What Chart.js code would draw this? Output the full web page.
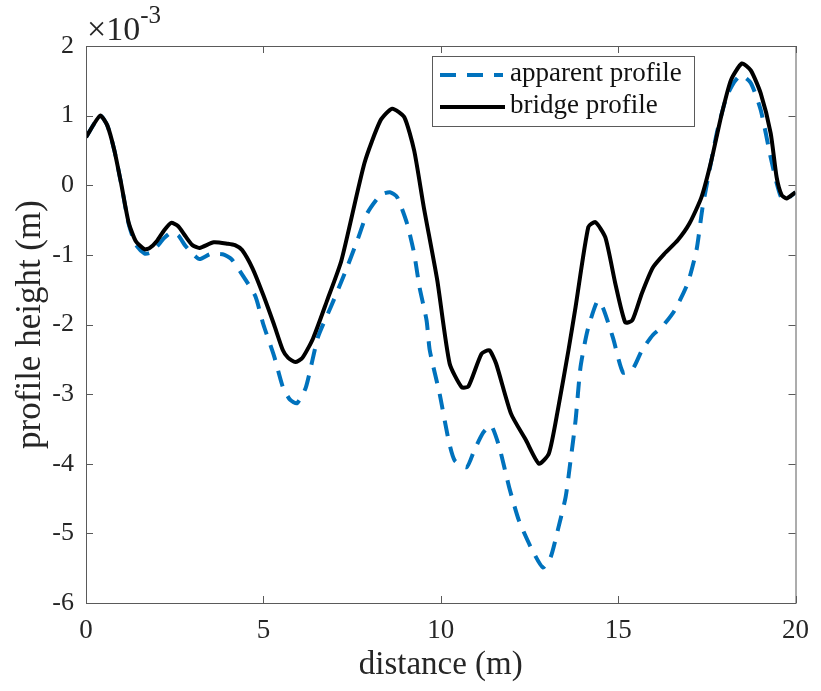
<!DOCTYPE html>
<html>
<head>
<meta charset="utf-8">
<script src="https://cdn.jsdelivr.net/npm/chart.js@4.4.1/dist/chart.umd.min.js"></script>
<style>
  html, body { margin: 0; padding: 0; background: #fff; }
  #wrap { width: 821px; height: 691px; }
</style>
</head>
<body>
<div id="wrap"><canvas id="profileChart" width="821" height="691"></canvas></div>
<script>
// 讀圖估計的數值 (高度單位: 1e-3 m)
const bridgeDistance = [0, 0.4, 0.6, 0.8, 1.0, 1.2, 1.4, 1.65, 1.8, 2.0, 2.2, 2.4, 2.6, 2.8, 3.0, 3.2, 3.6, 4.0, 4.2, 4.4,
  4.7, 5.0, 5.3, 5.55, 5.7, 5.9, 6.1, 6.4, 6.8, 7.2, 7.85, 8.3, 8.63, 8.97, 9.25, 9.52, 9.9, 10.25, 10.59, 10.78,
  11.15, 11.37, 11.56, 11.98, 12.4, 12.77, 13.05, 13.3, 13.6, 13.8, 14.16, 14.36, 14.64, 14.92, 15.2, 15.4, 15.67,
  15.98, 16.31, 16.68, 17.01, 17.35, 17.63, 17.9, 18.18, 18.49, 18.74, 19.02, 19.3, 19.47, 19.61, 19.75, 20];
const bridgeHeight = [0.69, 1.0, 0.86, 0.5, 0, -0.53, -0.8, -0.92, -0.9, -0.8, -0.65, -0.54, -0.59, -0.73, -0.86, -0.9, -0.82, -0.84, -0.86, -0.93,
  -1.2, -1.58, -2.0, -2.37, -2.48, -2.54, -2.48, -2.2, -1.65, -1.08, 0.32, 0.93, 1.1, 0.98, 0.5, -0.31, -1.36, -2.56, -2.9, -2.89,
  -2.42, -2.37, -2.56, -3.28, -3.66, -4.0, -3.85, -3.23, -2.37, -1.75, -0.6, -0.53, -0.75, -1.41, -1.97, -1.94, -1.55,
  -1.18, -0.98, -0.79, -0.55, -0.17, 0.36, 0.98, 1.51, 1.75, 1.65, 1.32, 0.75, 0.11, -0.14, -0.19, -0.1];

const apparentDistance = [0, 0.4, 0.6, 0.8, 1.0, 1.2, 1.4, 1.65, 1.8, 2.0, 2.2, 2.4, 2.6, 2.8, 3.0, 3.2, 3.5, 3.85, 4.1, 4.5,
  4.78, 5.0, 5.3, 5.55, 5.75, 5.95, 6.2, 6.54, 6.9, 7.29, 7.65, 7.93, 8.3, 8.57, 8.77, 9.05, 9.25, 9.4, 9.6, 9.69,
  9.97, 10.22, 10.39, 10.73, 10.95, 11.2, 11.42, 11.65, 11.93, 12.2, 12.54, 12.88, 13.1, 13.32, 13.52, 13.66, 13.8,
  13.94, 14.14, 14.42, 14.58, 14.86, 15.14, 15.42, 15.67, 15.98, 16.23, 16.59, 16.96, 17.21, 17.38, 17.63, 17.8,
  18.05, 18.27, 18.46, 18.74, 19.02, 19.3, 19.47, 19.61, 19.75, 20];
const apparentHeight = [0.69, 1.0, 0.86, 0.5, 0, -0.55, -0.85, -0.98, -0.97, -0.88, -0.76, -0.68, -0.72, -0.87, -0.98, -1.06, -0.99, -0.99, -1.06, -1.36,
  -1.6, -2.0, -2.45, -2.9, -3.08, -3.13, -2.9, -2.18, -1.75, -1.27, -0.79, -0.4, -0.14, -0.1, -0.17, -0.55, -0.98, -1.46, -1.94, -2.37,
  -3.0, -3.66, -3.95, -4.05, -3.8, -3.55, -3.45, -3.76, -4.34, -4.81, -5.2, -5.49, -5.34, -4.91, -4.48, -3.95, -3.38,
  -2.61, -2.08, -1.66, -1.77, -2.2, -2.69, -2.63, -2.37, -2.15, -2.04, -1.8, -1.41, -0.93, -0.32, 0.36, 0.79,
  1.26, 1.48, 1.58, 1.47, 1.08, 0.4, 0.03, -0.19, -0.2, -0.1];

const xTicks = [0, 5, 10, 15, 20];
const yTicks = [-6, -5, -4, -3, -2, -1, 0, 1, 2];
const seriesNames = ['apparent profile', 'bridge profile'];

const SERIF = '"Liberation Serif", "Times New Roman", serif';
const AXIS_COLOR = '#262626';
const BLUE = '#0072BD';

function toPoints(xs, ys) {
    return xs.map((x, i) => ({ x: x, y: ys[i] }));
}

/**
 * MATLAB 風格外框、內向刻度、圖例與 ×10^-3
 */
const matlabFrame = {
    id: 'matlabFrame',
    afterDraw(chart) {
        const ctx = chart.ctx;
        const a = chart.chartArea;
        const xs = chart.scales.x;
        const ys = chart.scales.y;
        const tl = 7;

        ctx.save();
        ctx.strokeStyle = '#5a5a5a';
        ctx.lineWidth = 1;
        ctx.strokeRect(a.left + 0.5, a.top + 0.5, a.right - a.left, a.bottom - a.top);
        ctx.beginPath();
        xTicks.forEach(v => {
            const px = Math.round(xs.getPixelForValue(v)) + 0.5;
            ctx.moveTo(px, a.bottom); ctx.lineTo(px, a.bottom - tl);
            ctx.moveTo(px, a.top); ctx.lineTo(px, a.top + tl);
        });
        yTicks.forEach(v => {
            const py = Math.round(ys.getPixelForValue(v)) + 0.5;
            ctx.moveTo(a.left, py); ctx.lineTo(a.left + tl, py);
            ctx.moveTo(a.right, py); ctx.lineTo(a.right - tl, py);
        });
        ctx.stroke();

        // 指數標記
        ctx.fillStyle = AXIS_COLOR;
        ctx.textBaseline = 'alphabetic';
        ctx.textAlign = 'left';
        ctx.font = '34px ' + SERIF;
        ctx.fillText('\u00d710', a.left + 1, a.top - 6);
        const w = ctx.measureText('\u00d710').width;
        ctx.font = '25px ' + SERIF;
        ctx.fillText('-3', a.left + 1 + w, a.top - 23);

        // 圖例
        const lx = 432, ly = 56, lw = 262, lh = 70;
        ctx.fillStyle = '#fff';
        ctx.fillRect(lx, ly, lw, lh);
        ctx.strokeStyle = '#5a5a5a';
        ctx.strokeRect(lx + 0.5, ly + 0.5, lw, lh);

        ctx.lineWidth = 4;
        ctx.strokeStyle = BLUE;
        ctx.setLineDash([16, 11]);
        ctx.beginPath(); ctx.moveTo(440, 75); ctx.lineTo(503, 75); ctx.stroke();
        ctx.setLineDash([]);
        ctx.strokeStyle = '#000';
        ctx.beginPath(); ctx.moveTo(440, 107); ctx.lineTo(505, 107); ctx.stroke();

        ctx.fillStyle = '#111';
        ctx.font = '27px ' + SERIF;
        ctx.textBaseline = 'middle';
        ctx.fillText(seriesNames[0], 510, 74);
        ctx.fillText(seriesNames[1], 510, 106);
        ctx.restore();
    }
};

const ctx = document.getElementById('profileChart').getContext('2d');
new Chart(ctx, {
    type: 'line',
    data: {
        datasets: [
            {
                label: seriesNames[1],
                data: toPoints(bridgeDistance, bridgeHeight),
                borderColor: '#000',
                borderWidth: 4,
                pointRadius: 0,
                tension: 0.2,
                order: 0
            },
            {
                label: seriesNames[0],
                data: toPoints(apparentDistance, apparentHeight),
                borderColor: BLUE,
                borderWidth: 4,
                borderDash: [16, 11],
                pointRadius: 0,
                tension: 0.2,
                order: 1
            }
        ]
    },
    options: {
        responsive: false,
        animation: false,
        events: [],
        layout: { padding: { top: 46, right: 19, left: 0, bottom: 0 } },
        plugins: { legend: { display: false }, tooltip: { enabled: false } },
        scales: {
            x: {
                type: 'linear',
                min: 0,
                max: 20,
                afterBuildTicks: s => { s.ticks = xTicks.map(v => ({ value: v })); },
                afterFit: s => { s.height = 88; },
                grid: { display: false, drawTicks: false },
                border: { display: false },
                ticks: { color: AXIS_COLOR, font: { family: SERIF, size: 27 }, padding: 12, maxRotation: 0 },
                title: { display: true, text: 'distance (m)', color: AXIS_COLOR, font: { family: SERIF, size: 33 }, padding: { top: 0, bottom: 6 } }
            },
            y: {
                type: 'linear',
                min: -6,
                max: 2,
                afterBuildTicks: s => { s.ticks = yTicks.map(v => ({ value: v })); },
                afterFit: s => { s.width = 86; },
                grid: { display: false, drawTicks: false },
                border: { display: false },
                ticks: { color: AXIS_COLOR, font: { family: SERIF, size: 26 }, padding: 12 },
                title: { display: true, text: 'profile height (m)', color: AXIS_COLOR, font: { family: SERIF, size: 35 }, padding: { top: 10, bottom: 0 } }
            }
        }
    },
    plugins: [matlabFrame]
});
</script>
</body>
</html>
